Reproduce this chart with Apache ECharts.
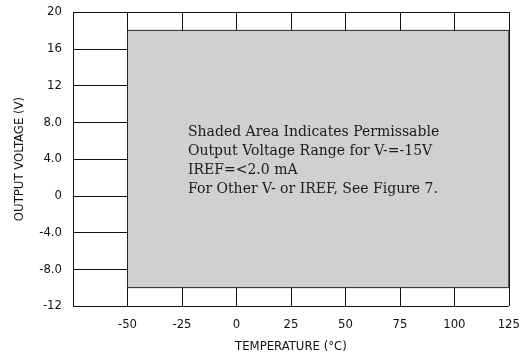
<!DOCTYPE html>
<html><head><meta charset="utf-8">
<script src="https://cdn.jsdelivr.net/npm/echarts@6/dist/echarts.min.js"></script>
<style>html,body{margin:0;padding:0;background:#fff}#c{width:523px;height:358px}</style>
</head><body><div id="c"></div>
<script>
const xTicks = [-75, -50, -25, 0, 25, 50, 75, 100, 125];
const xTickLabels = ['', '-50', '-25', '0', '25', '50', '75', '100', '125'];
const yTicks = [-12, -8, -4, 0, 4, 8, 12, 16, 20];
const yTickLabels = ['-12', '-8.0', '-4.0', '0', '4.0', '8.0', '12', '16', '20'];
const shadeTemp = [-50, 125];
const shadeVolt = [-10, 18];
const noteLines = [
  'Shaded Area Indicates Permissable',
  'Output Voltage Range for V-=-15V',
  'IREF=<2.0 mA',
  'For Other V- or IREF, See Figure 7.'
];
const axisFont = "'DejaVu Sans Condensed','Liberation Sans Narrow','DejaVu Sans',sans-serif";
const chart = echarts.init(document.getElementById('c'), null, {renderer: 'canvas'});
chart.setOption({
  animation: false,
  backgroundColor: '#fff',
  grid: {left: 73, right: 10, top: 12, bottom: 52},
  xAxis: {
    type: 'value', min: xTicks[0], max: xTicks[xTicks.length - 1], interval: 25,
    name: 'TEMPERATURE (°C)', nameLocation: 'middle', nameGap: 34,
    nameTextStyle: {fontFamily: axisFont, fontSize: 13, color: '#111'},
    axisLine: {show: true, lineStyle: {color: '#111', width: 1}},
    axisTick: {show: false},
    axisLabel: {margin: 12, fontFamily: axisFont, fontSize: 13, color: '#111',
      formatter: v => xTickLabels[xTicks.indexOf(v)] ?? ''},
    splitLine: {show: true, lineStyle: {color: '#111', width: 1}}
  },
  yAxis: {
    type: 'value', min: yTicks[0], max: yTicks[yTicks.length - 1], interval: 4,
    name: 'OUTPUT VOLTAGE (V)', nameLocation: 'middle', nameGap: 47, nameRotate: 90,
    nameTextStyle: {fontFamily: axisFont, fontSize: 13, color: '#111'},
    axisLine: {show: true, lineStyle: {color: '#111', width: 1}},
    axisTick: {show: false},
    axisLabel: {margin: 11, fontFamily: axisFont, fontSize: 13, color: '#111',
      formatter: v => yTickLabels[yTicks.indexOf(v)] ?? ''},
    splitLine: {show: true, lineStyle: {color: '#111', width: 1}}
  },
  series: [{
    type: 'line', data: [], silent: true,
    markArea: {
      silent: true,
      itemStyle: {color: '#d0d0d0', borderColor: '#222', borderWidth: 1},
      data: [[{coord: [shadeTemp[0], shadeVolt[0]]}, {coord: [shadeTemp[1], shadeVolt[1]]}]]
    }
  }],
  graphic: [{
    type: 'text', left: 188, top: 123, z: 100,
    style: {text: noteLines.join('\n'), font: "14px 'DejaVu Serif', serif", lineHeight: 19, fill: '#1a1a1a'}
  }]
});
</script></body></html>
